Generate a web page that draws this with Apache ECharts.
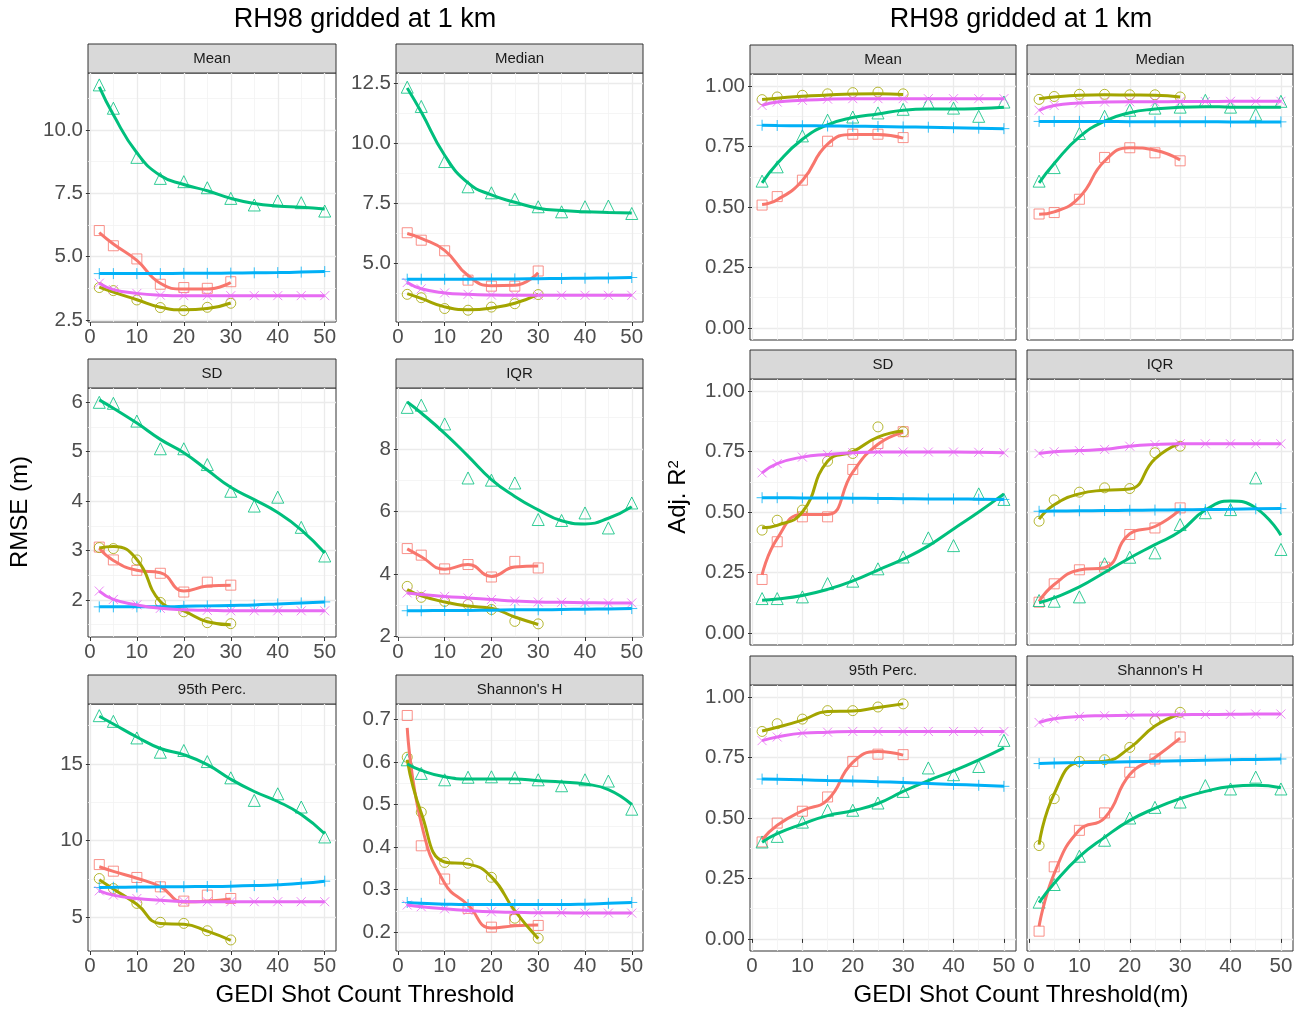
<!DOCTYPE html>
<html>
<head>
<meta charset="utf-8">
<script src="https://cdn.jsdelivr.net/npm/echarts@6/dist/echarts.min.js"></script>
<style>
  html, body { margin: 0; padding: 0; background: #ffffff; }
  #chart { width: 1302px; height: 1012px; }
</style>
</head>
<body>
<div id="chart"></div>
<script>
// x positions: short series stop at 30, long ones go to 50
const xShort = [2, 5, 10, 15, 20, 25, 30];
const xLong = [2, 5, 10, 15, 20, 25, 30, 35, 40, 45, 50];
const xMajor = [0, 10, 20, 30, 40, 50];
const xMinor = [5, 15, 25, 35, 45];

// sq = red squares, ci = olive circles, tri = green triangles, plus = blue, cross = magenta
// *Fit = smoothed curve at the same x positions

// RMSE - Mean
const rmseMeanSq = [6.03, 5.43, 4.91, 3.91, 3.78, 3.75, 4.01];
const rmseMeanSqFit = [5.95, 5.5, 4.85, 3.95, 3.72, 3.72, 3.98];
const rmseMeanCi = [3.78, 3.66, 3.29, 2.99, 2.87, 3.0, 3.16];
const rmseMeanCiFit = [3.8, 3.6, 3.3, 3.0, 2.9, 2.95, 3.17];
const rmseMeanTri = [11.78, 10.86, 8.92, 8.09, 7.96, 7.72, 7.3, 7.04, 7.2, 7.13, 6.8];
const rmseMeanTriFit = [11.7, 10.6, 9.1, 8.2, 7.85, 7.6, 7.3, 7.1, 7.0, 6.95, 6.88];
const rmseMeanPlus = [4.33, 4.33, 4.33, 4.33, 4.34, 4.34, 4.35, 4.36, 4.37, 4.39, 4.41];
const rmseMeanCross = [3.95, 3.7, 3.55, 3.48, 3.46, 3.46, 3.46, 3.46, 3.46, 3.46, 3.46];

// RMSE - Median
const rmseMedSq = [6.28, 5.97, 5.53, 4.31, 4.06, 4.06, 4.69];
const rmseMedSqFit = [6.25, 6.05, 5.55, 4.5, 4.08, 4.1, 4.62];
const rmseMedCi = [3.72, 3.58, 3.13, 3.06, 3.19, 3.33, 3.71];
const rmseMedCiFit = [3.75, 3.55, 3.2, 3.08, 3.15, 3.35, 3.72];
const rmseMedTri = [12.33, 11.53, 9.24, 8.19, 7.94, 7.67, 7.36, 7.15, 7.36, 7.39, 7.08];
const rmseMedTriFit = [12.3, 11.3, 9.5, 8.35, 7.85, 7.55, 7.3, 7.2, 7.15, 7.12, 7.1];
const rmseMedPlus = [4.35, 4.35, 4.35, 4.35, 4.36, 4.36, 4.37, 4.38, 4.39, 4.4, 4.42];
const rmseMedCross = [4.21, 3.95, 3.78, 3.72, 3.69, 3.68, 3.68, 3.68, 3.68, 3.68, 3.68];

// RMSE - SD
const rmseSdSq = [3.07, 2.81, 2.6, 2.54, 2.16, 2.36, 2.3];
const rmseSdSqFit = [3.05, 2.8, 2.6, 2.55, 2.18, 2.28, 2.3];
const rmseSdCi = [3.06, 3.04, 2.81, 1.95, 1.76, 1.54, 1.52];
const rmseSdCiFit = [3.05, 3.08, 2.82, 1.97, 1.78, 1.56, 1.5];
const rmseSdTri = [6.0, 5.98, 5.62, 5.06, 5.06, 4.74, 4.2, 3.9, 4.08, 3.47, 2.89];
const rmseSdTriFit = [6.05, 5.88, 5.58, 5.25, 4.98, 4.63, 4.28, 4.03, 3.77, 3.42, 2.95];
const rmseSdPlus = [1.86, 1.86, 1.86, 1.86, 1.87, 1.88, 1.89, 1.9, 1.92, 1.94, 1.96];
const rmseSdCross = [2.18, 2.01, 1.9, 1.83, 1.8, 1.79, 1.78, 1.78, 1.78, 1.78, 1.78];

// RMSE - IQR
const rmseIqrSq = [4.81, 4.6, 4.16, 4.3, 3.9, 4.4, 4.19];
const rmseIqrSqFit = [4.8, 4.55, 4.15, 4.3, 3.92, 4.22, 4.25];
const rmseIqrCi = [3.6, 3.25, 3.12, 3.02, 2.86, 2.48, 2.4];
const rmseIqrCiFit = [3.5, 3.3, 3.1, 2.97, 2.9, 2.62, 2.38];
const rmseIqrTri = [9.33, 9.4, 8.8, 7.07, 7.0, 6.91, 5.74, 5.71, 5.95, 5.47, 6.27];
const rmseIqrTriFit = [9.5, 9.15, 8.5, 7.77, 7.02, 6.48, 6.05, 5.7, 5.6, 5.78, 6.15];
const rmseIqrPlus = [2.82, 2.82, 2.83, 2.83, 2.84, 2.85, 2.85, 2.86, 2.87, 2.88, 2.89];
const rmseIqrCross = [3.39, 3.34, 3.28, 3.23, 3.18, 3.13, 3.1, 3.09, 3.08, 3.07, 3.07];

// RMSE - 95th Perc.
const rmseP95Sq = [8.44, 8.01, 7.6, 6.99, 6.06, 6.45, 6.23];
const rmseP95SqFit = [8.3, 8.0, 7.55, 7.0, 6.0, 6.05, 6.2];
const rmseP95Ci = [7.53, 6.88, 5.91, 4.68, 4.61, 4.13, 3.53];
const rmseP95CiFit = [7.45, 6.85, 5.85, 4.6, 4.55, 4.1, 3.5];
const rmseP95Tri = [18.14, 17.77, 16.69, 15.76, 15.87, 15.15, 14.09, 12.62, 13.05, 12.19, 10.24];
const rmseP95TriFit = [18.1, 17.6, 16.75, 16.0, 15.6, 14.95, 14.0, 13.2, 12.55, 11.7, 10.45];
const rmseP95Plus = [6.95, 6.96, 6.98, 6.99, 7.0, 7.01, 7.03, 7.07, 7.13, 7.22, 7.36];
const rmseP95Cross = [6.73, 6.45, 6.23, 6.12, 6.04, 6.02, 6.02, 6.02, 6.02, 6.02, 6.02];

// RMSE - Shannon's H
const rmseShSq = [0.709, 0.403, 0.325, 0.256, 0.212, 0.23, 0.216];
const rmseShSqFit = [0.68, 0.456, 0.315, 0.264, 0.21, 0.215, 0.217];
const rmseShCi = [0.611, 0.482, 0.364, 0.362, 0.329, 0.233, 0.186];
const rmseShCiFit = [0.605, 0.48, 0.365, 0.36, 0.33, 0.25, 0.185];
const rmseShTri = [0.605, 0.573, 0.558, 0.564, 0.565, 0.563, 0.558, 0.544, 0.558, 0.555, 0.489];
const rmseShTriFit = [0.595, 0.58, 0.565, 0.56, 0.56, 0.56, 0.556, 0.553, 0.548, 0.535, 0.5];
const rmseShPlus = [0.27, 0.268, 0.266, 0.265, 0.265, 0.265, 0.265, 0.265, 0.266, 0.268, 0.27];
const rmseShCross = [0.264, 0.26, 0.255, 0.251, 0.248, 0.247, 0.246, 0.246, 0.245, 0.245, 0.245];

// Adj. R2 - Mean
const r2MeanSq = [0.508, 0.543, 0.611, 0.772, 0.801, 0.801, 0.787];
const r2MeanSqFit = [0.51, 0.53, 0.61, 0.76, 0.8, 0.8, 0.785];
const r2MeanCi = [0.944, 0.955, 0.962, 0.968, 0.973, 0.975, 0.968];
const r2MeanCiFit = [0.945, 0.95, 0.958, 0.963, 0.967, 0.968, 0.965];
const r2MeanTri = [0.607, 0.666, 0.794, 0.859, 0.872, 0.889, 0.904, 0.93, 0.909, 0.875, 0.934];
const r2MeanTriFit = [0.6, 0.68, 0.78, 0.84, 0.87, 0.885, 0.9, 0.905, 0.905, 0.907, 0.912];
const r2MeanPlus = [0.838, 0.837, 0.836, 0.835, 0.834, 0.833, 0.831, 0.83, 0.828, 0.826, 0.824];
const r2MeanCross = [0.92, 0.934, 0.941, 0.946, 0.948, 0.948, 0.948, 0.948, 0.948, 0.948, 0.948];

// Adj. R2 - Median
const r2MedSq = [0.471, 0.477, 0.532, 0.705, 0.745, 0.724, 0.691];
const r2MedSqFit = [0.47, 0.48, 0.54, 0.69, 0.745, 0.735, 0.695];
const r2MedCi = [0.945, 0.957, 0.966, 0.966, 0.964, 0.964, 0.955];
const r2MedCiFit = [0.948, 0.955, 0.962, 0.964, 0.963, 0.962, 0.955];
const r2MedTri = [0.607, 0.663, 0.804, 0.875, 0.9, 0.909, 0.913, 0.941, 0.913, 0.883, 0.937];
const r2MedTriFit = [0.6, 0.68, 0.79, 0.855, 0.89, 0.905, 0.913, 0.915, 0.913, 0.912, 0.913];
const r2MedPlus = [0.854, 0.854, 0.854, 0.854, 0.853, 0.853, 0.853, 0.853, 0.852, 0.852, 0.852];
const r2MedCross = [0.9, 0.92, 0.93, 0.934, 0.935, 0.935, 0.936, 0.936, 0.937, 0.937, 0.937];

// Adj. R2 - SD
const r2SdSq = [0.221, 0.377, 0.48, 0.48, 0.676, 0.783, 0.832];
const r2SdSqFit = [0.24, 0.39, 0.49, 0.49, 0.665, 0.78, 0.83];
const r2SdCi = [0.425, 0.466, 0.508, 0.71, 0.742, 0.852, 0.832];
const r2SdCiFit = [0.435, 0.445, 0.5, 0.71, 0.75, 0.81, 0.835];
const r2SdTri = [0.142, 0.142, 0.149, 0.204, 0.214, 0.265, 0.314, 0.393, 0.361, 0.575, 0.552];
const r2SdTriFit = [0.135, 0.14, 0.155, 0.18, 0.215, 0.26, 0.305, 0.36, 0.43, 0.5, 0.575];
const r2SdPlus = [0.559, 0.559, 0.558, 0.558, 0.557, 0.556, 0.555, 0.554, 0.554, 0.553, 0.552];
const r2SdCross = [0.662, 0.7, 0.727, 0.738, 0.745, 0.748, 0.748, 0.748, 0.748, 0.747, 0.745];

// Adj. R2 - IQR
const r2IqrSq = [0.127, 0.203, 0.261, 0.272, 0.407, 0.434, 0.517];
const r2IqrSqFit = [0.13, 0.2, 0.26, 0.27, 0.41, 0.44, 0.51];
const r2IqrCi = [0.462, 0.55, 0.582, 0.6, 0.597, 0.745, 0.772];
const r2IqrCiFit = [0.47, 0.53, 0.575, 0.59, 0.595, 0.72, 0.785];
const r2IqrTri = [0.134, 0.131, 0.149, 0.286, 0.313, 0.331, 0.448, 0.497, 0.51, 0.641, 0.345];
const r2IqrTriFit = [0.125, 0.145, 0.19, 0.25, 0.31, 0.365, 0.42, 0.508, 0.545, 0.517, 0.404];
const r2IqrPlus = [0.503, 0.504, 0.505, 0.506, 0.507, 0.508, 0.509, 0.51, 0.511, 0.513, 0.514];
const r2IqrCross = [0.742, 0.749, 0.754, 0.759, 0.772, 0.779, 0.782, 0.782, 0.782, 0.782, 0.782];

// Adj. R2 - 95th Perc.
const r2P95Sq = [0.401, 0.479, 0.528, 0.587, 0.734, 0.764, 0.762];
const r2P95SqFit = [0.41, 0.47, 0.53, 0.575, 0.73, 0.775, 0.76];
const r2P95Ci = [0.858, 0.89, 0.909, 0.944, 0.944, 0.959, 0.972];
const r2P95CiFit = [0.86, 0.875, 0.905, 0.94, 0.942, 0.957, 0.972];
const r2P95Tri = [0.401, 0.424, 0.483, 0.532, 0.532, 0.562, 0.61, 0.707, 0.679, 0.713, 0.821];
const r2P95TriFit = [0.4, 0.435, 0.475, 0.51, 0.53, 0.56, 0.61, 0.655, 0.695, 0.74, 0.79];
const r2P95Plus = [0.661, 0.66, 0.658, 0.655, 0.653, 0.65, 0.647, 0.643, 0.639, 0.635, 0.631];
const r2P95Cross = [0.82, 0.835, 0.851, 0.855, 0.858, 0.858, 0.858, 0.858, 0.858, 0.858, 0.858];

// Adj. R2 - Shannon's H
const r2ShSq = [0.032, 0.298, 0.449, 0.521, 0.689, 0.744, 0.835];
const r2ShSqFit = [0.052, 0.27, 0.45, 0.5, 0.68, 0.75, 0.83];
const r2ShCi = [0.386, 0.58, 0.734, 0.741, 0.792, 0.902, 0.937];
const r2ShCiFit = [0.39, 0.6, 0.73, 0.735, 0.79, 0.88, 0.93];
const r2ShTri = [0.152, 0.225, 0.342, 0.408, 0.5, 0.544, 0.566, 0.634, 0.62, 0.669, 0.62];
const r2ShTriFit = [0.15, 0.23, 0.34, 0.42, 0.49, 0.54, 0.58, 0.61, 0.63, 0.635, 0.625];
const r2ShPlus = [0.725, 0.727, 0.729, 0.731, 0.733, 0.735, 0.737, 0.739, 0.741, 0.742, 0.744];
const r2ShCross = [0.895, 0.91, 0.92, 0.923, 0.925, 0.926, 0.927, 0.928, 0.929, 0.93, 0.93];

const FONT = '"Liberation Sans", Arial, Helvetica, sans-serif';
const COLORS = { sq: "#F8766D", ci: "#A3A500", tri: "#00BF7D", plus: "#00B0F6", cross: "#E76BF3" };
const X_MIN = -0.4;
const X_MAX = 52.4;
const R2_MAJOR = [0, 0.25, 0.5, 0.75, 1];
const R2_MINOR = [0.125, 0.375, 0.625, 0.875];

function set(sq, sqFit, ci, ciFit, tri, triFit, plus, cross) {
  return { sq, sqFit, ci, ciFit, tri, triFit, plus, cross };
}

// left block: RMSE, free y scales, labels on every panel
const L1 = 88, L2 = 396, LW = 248;
const LT = [73, 388, 704], LH = 249;
// right block: Adj. R2, fixed scale 0..1
const R1 = 750, R2 = 1027, RW = 266;
const RT = [74, 379, 685], RH = 266;

const panels = [
  { name: "Mean", left: L1, top: LT[0], width: LW, height: LH, yMin: 2.42, yMax: 12.25,
    yMajor: [2.5, 5, 7.5, 10], yMinor: [3.75, 6.25, 8.75, 11.25], digits: 1, showX: true, showY: true,
    d: set(rmseMeanSq, rmseMeanSqFit, rmseMeanCi, rmseMeanCiFit, rmseMeanTri, rmseMeanTriFit, rmseMeanPlus, rmseMeanCross) },
  { name: "Median", left: L2, top: LT[0], width: LW - 1, height: LH, yMin: 2.57, yMax: 12.92,
    yMajor: [5, 7.5, 10, 12.5], yMinor: [3.75, 6.25, 8.75, 11.25], digits: 1, showX: true, showY: true,
    d: set(rmseMedSq, rmseMedSqFit, rmseMedCi, rmseMedCiFit, rmseMedTri, rmseMedTriFit, rmseMedPlus, rmseMedCross) },
  { name: "SD", left: L1, top: LT[1], width: LW, height: LH, yMin: 1.25, yMax: 6.29,
    yMajor: [2, 3, 4, 5, 6], yMinor: [1.5, 2.5, 3.5, 4.5, 5.5], digits: 0, showX: true, showY: true,
    d: set(rmseSdSq, rmseSdSqFit, rmseSdCi, rmseSdCiFit, rmseSdTri, rmseSdTriFit, rmseSdPlus, rmseSdCross) },
  { name: "IQR", left: L2, top: LT[1], width: LW - 1, height: LH, yMin: 1.98, yMax: 9.95,
    yMajor: [2, 4, 6, 8], yMinor: [3, 5, 7, 9], digits: 0, showX: true, showY: true,
    d: set(rmseIqrSq, rmseIqrSqFit, rmseIqrCi, rmseIqrCiFit, rmseIqrTri, rmseIqrTriFit, rmseIqrPlus, rmseIqrCross) },
  { name: "95th Perc.", left: L1, top: LT[2], width: LW, height: LH - 2, yMin: 2.81, yMax: 18.9,
    yMajor: [5, 10, 15], yMinor: [7.5, 12.5, 17.5], digits: 0, showX: true, showY: true,
    d: set(rmseP95Sq, rmseP95SqFit, rmseP95Ci, rmseP95CiFit, rmseP95Tri, rmseP95TriFit, rmseP95Plus, rmseP95Cross) },
  { name: "Shannon's H", left: L2, top: LT[2], width: LW - 1, height: LH - 2, yMin: 0.156, yMax: 0.736,
    yMajor: [0.2, 0.3, 0.4, 0.5, 0.6, 0.7], yMinor: [0.25, 0.35, 0.45, 0.55, 0.65], digits: 1, showX: true, showY: true,
    d: set(rmseShSq, rmseShSqFit, rmseShCi, rmseShCiFit, rmseShTri, rmseShTriFit, rmseShPlus, rmseShCross) },

  { name: "Mean", left: R1, top: RT[0], width: RW, height: RH, yMin: -0.05, yMax: 1.05,
    yMajor: R2_MAJOR, yMinor: R2_MINOR, digits: 2, showX: false, showY: true,
    d: set(r2MeanSq, r2MeanSqFit, r2MeanCi, r2MeanCiFit, r2MeanTri, r2MeanTriFit, r2MeanPlus, r2MeanCross) },
  { name: "Median", left: R2, top: RT[0], width: RW, height: RH, yMin: -0.05, yMax: 1.05,
    yMajor: R2_MAJOR, yMinor: R2_MINOR, digits: 2, showX: false, showY: false,
    d: set(r2MedSq, r2MedSqFit, r2MedCi, r2MedCiFit, r2MedTri, r2MedTriFit, r2MedPlus, r2MedCross) },
  { name: "SD", left: R1, top: RT[1], width: RW, height: RH, yMin: -0.05, yMax: 1.05,
    yMajor: R2_MAJOR, yMinor: R2_MINOR, digits: 2, showX: false, showY: true,
    d: set(r2SdSq, r2SdSqFit, r2SdCi, r2SdCiFit, r2SdTri, r2SdTriFit, r2SdPlus, r2SdCross) },
  { name: "IQR", left: R2, top: RT[1], width: RW, height: RH, yMin: -0.05, yMax: 1.05,
    yMajor: R2_MAJOR, yMinor: R2_MINOR, digits: 2, showX: false, showY: false,
    d: set(r2IqrSq, r2IqrSqFit, r2IqrCi, r2IqrCiFit, r2IqrTri, r2IqrTriFit, r2IqrPlus, r2IqrCross) },
  { name: "95th Perc.", left: R1, top: RT[2], width: RW, height: RH, yMin: -0.05, yMax: 1.05,
    yMajor: R2_MAJOR, yMinor: R2_MINOR, digits: 2, showX: true, showY: true,
    d: set(r2P95Sq, r2P95SqFit, r2P95Ci, r2P95CiFit, r2P95Tri, r2P95TriFit, r2P95Plus, r2P95Cross) },
  { name: "Shannon's H", left: R2, top: RT[2], width: RW, height: RH, yMin: -0.05, yMax: 1.05,
    yMajor: R2_MAJOR, yMinor: R2_MINOR, digits: 2, showX: true, showY: false,
    d: set(r2ShSq, r2ShSqFit, r2ShCi, r2ShCiFit, r2ShTri, r2ShTriFit, r2ShPlus, r2ShCross) },
];

const SYMBOLS = {
  sq: { symbol: "rect", size: 10 },
  ci: { symbol: "circle", size: 10 },
  tri: { symbol: "triangle", size: 12 },
  plus: { symbol: "path://M5,0L5,10M0,5L10,5", size: 11 },
  cross: { symbol: "path://M0,0L10,10M10,0L0,10", size: 9 },
};

function pairs(xs, ys) {
  return xs.map((x, i) => [x, ys[i]]);
}

function mainAxis(gi, min, max, major, show, fmt) {
  return {
    type: "value", gridIndex: gi, min, max,
    axisLine: { show: false },
    axisTick: { show, customValues: major, length: 4, lineStyle: { color: "#333333", width: 1 } },
    axisLabel: { show, customValues: major, formatter: fmt, color: "#4D4D4D", fontSize: 20.5, fontFamily: FONT, margin: 5 },
    splitLine: { show: true, lineStyle: { color: "#EBEBEB", width: 1.3 } },
  };
}

function minorAxis(gi, min, max, minor) {
  return {
    type: "value", gridIndex: gi, min, max,
    axisLine: { show: false },
    axisTick: { show: false, customValues: minor },
    axisLabel: { show: false },
    splitLine: { show: true, lineStyle: { color: "#F3F3F3", width: 0.8 } },
  };
}

const grid = [], xAxis = [], yAxis = [], series = [], graphic = [];

panels.forEach((p, i) => {
  grid.push({
    left: p.left, top: p.top, width: p.width, height: p.height,
    show: true, borderColor: "#333333", borderWidth: 1, backgroundColor: "#ffffff",
  });
  xAxis.push(mainAxis(i, X_MIN, X_MAX, xMajor, p.showX, (v) => String(v)));
  xAxis.push(minorAxis(i, X_MIN, X_MAX, xMinor));
  yAxis.push(mainAxis(i, p.yMin, p.yMax, p.yMajor, p.showY, (v) => Number(v).toFixed(p.digits)));
  yAxis.push(minorAxis(i, p.yMin, p.yMax, p.yMinor));

  const ax = { xAxisIndex: 2 * i, yAxisIndex: 2 * i };
  const groups = [
    ["sq", xShort, p.d.sq, p.d.sqFit],
    ["ci", xShort, p.d.ci, p.d.ciFit],
    ["tri", xLong, p.d.tri, p.d.triFit],
    ["plus", xLong, p.d.plus, p.d.plus],
    ["cross", xLong, p.d.cross, p.d.cross],
  ];
  groups.forEach(([key, xs, pts]) => {
    series.push({
      type: "scatter", ...ax, silent: true, z: 3,
      symbol: SYMBOLS[key].symbol, symbolSize: SYMBOLS[key].size,
      itemStyle: { color: "rgba(0,0,0,0)", borderColor: COLORS[key], borderWidth: 1 },
      data: pairs(xs, pts),
    });
  });
  groups.forEach(([key, xs, pts, fit]) => {
    series.push({
      type: "line", ...ax, silent: true, z: 4,
      showSymbol: false, smooth: 0.5,
      lineStyle: { color: COLORS[key], width: 3 },
      data: pairs(xs, fit),
    });
  });

  // facet strip
  graphic.push({
    type: "rect", silent: true,
    shape: { x: p.left, y: p.top - 29, width: p.width, height: 29 },
    style: { fill: "#D9D9D9", stroke: "#333333", lineWidth: 1 },
  });
  graphic.push({
    type: "text", silent: true, x: p.left + p.width / 2, y: p.top - 14,
    style: { text: p.name, align: "center", verticalAlign: "middle", fontSize: 15, fontFamily: FONT, fill: "#1A1A1A" },
  });
});

function label(text, x, y, size, rotation) {
  return {
    type: "text", silent: true, x, y, rotation: rotation || 0,
    style: { text, align: "center", verticalAlign: "middle", fontSize: size, fontFamily: FONT, fill: "#000000" },
  };
}

graphic.push(label("RH98 gridded at 1 km", 365, 20, 27));
graphic.push(label("RH98 gridded at 1 km", 1021, 20, 27));
graphic.push(label("GEDI Shot Count Threshold", 365, 995, 24));
graphic.push(label("GEDI Shot Count Threshold(m)", 1021, 995, 24));
graphic.push(label("RMSE (m)", 20, 512, 24, Math.PI / 2));
graphic.push({
  type: "text", silent: true, x: 678, y: 497, rotation: Math.PI / 2,
  style: {
    text: "{a|Adj. R}{b|2}", align: "center", verticalAlign: "middle", fontFamily: FONT, fill: "#000000",
    rich: { a: { fontSize: 24, fontFamily: FONT }, b: { fontSize: 15, fontFamily: FONT, verticalAlign: "top" } },
  },
});

const chart = echarts.init(document.getElementById("chart"), null, { renderer: "canvas" });
chart.setOption({
  animation: false,
  backgroundColor: "#ffffff",
  grid, xAxis, yAxis, series, graphic,
});
</script>
</body>
</html>
